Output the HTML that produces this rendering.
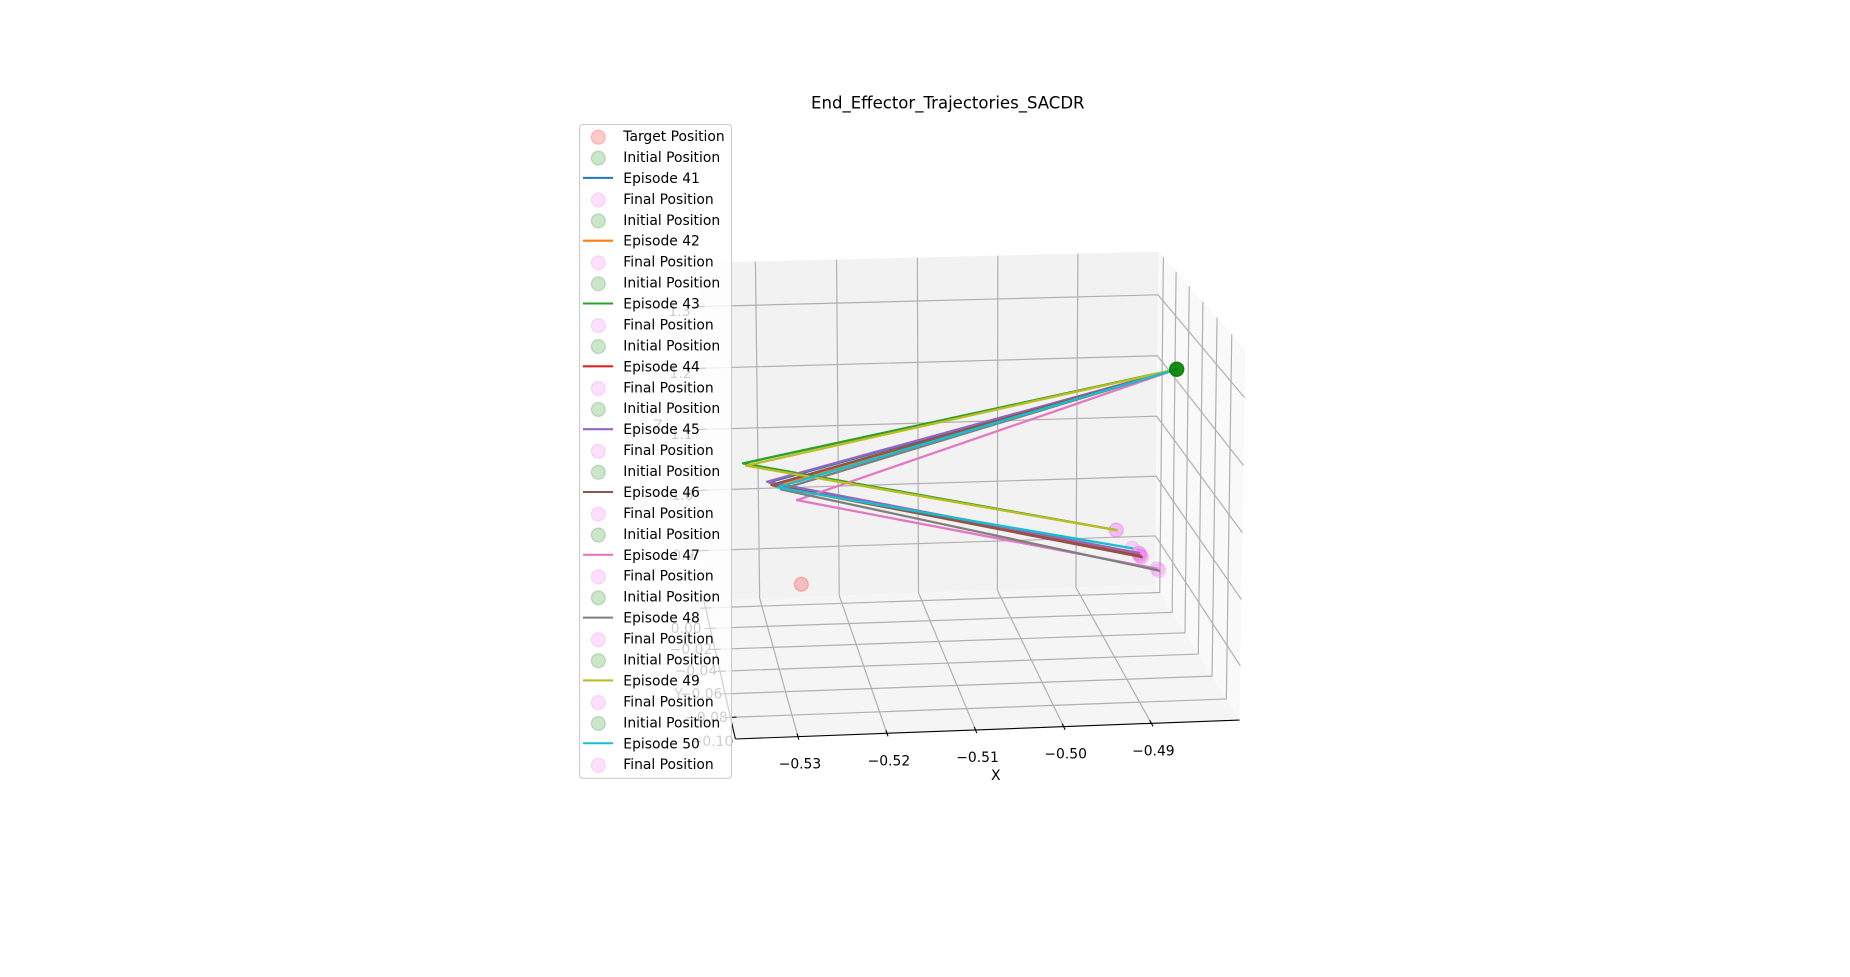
<!DOCTYPE html>
<html lang="en">
<head>
<meta charset="utf-8">
<title>End_Effector_Trajectories_SACDR</title>
<style>
html,body{margin:0;padding:0;background:#fff;}
svg{display:block;font-family:"DejaVu Sans","Liberation Sans",sans-serif;}
</style>
</head>
<body>
<svg id="chart" xmlns="http://www.w3.org/2000/svg" width="1850" height="977" viewBox="0 0 1850 977">
<rect x="0" y="0" width="1850" height="977" fill="#ffffff"/>
<g id="axes3d"></g>
<g id="marks"></g>
<g id="legend"></g>
<text x="947.8" y="108.5" font-size="16.55" text-anchor="middle" fill="#000">End_Effector_Trajectories_SACDR</text>
</svg>
<script>
// Tick values and labels
const xTicks = [-0.53, -0.52, -0.51, -0.50, -0.49];
const xTickLabels = ['\u22120.53', '\u22120.52', '\u22120.51', '\u22120.50', '\u22120.49'];
const yTicks = [0.02, 0.00, -0.02, -0.04, -0.06, -0.08];
const yLabelTicks = [0.00, -0.02, -0.04, -0.06, -0.08, -0.10];
const yTickLabels = ['0.00', '\u22120.02', '\u22120.04', '\u22120.06', '\u22120.08', '\u22120.10'];
const zTicks = [0.9, 1.0, 1.1, 1.2, 1.3];
const zTickLabels = ['0.9', '1.0', '1.1', '1.2', '1.3'];

// Series values
const episodes = ['Episode 41', 'Episode 42', 'Episode 43', 'Episode 44', 'Episode 45', 'Episode 46', 'Episode 47', 'Episode 48', 'Episode 49', 'Episode 50'];
const targetX = [-0.5271];
const targetY = [-0.0349];
const targetZ = [0.9418];
const initialX = [-0.4825, -0.4825, -0.4825, -0.4825, -0.4825, -0.4825, -0.4825, -0.4825, -0.4825, -0.4825];
const initialY = [-0.0349, -0.0349, -0.0349, -0.0349, -0.0349, -0.0349, -0.0349, -0.0349, -0.0349, -0.0349];
const initialZ = [1.2606, 1.2606, 1.2606, 1.2606, 1.2606, 1.2606, 1.2606, 1.2606, 1.2606, 1.2606];
const kneeX = [-0.5308, -0.5302, -0.5338, -0.5305, -0.5310, -0.5304, -0.52752, -0.5294, -0.53345, -0.5298];
const kneeY = [-0.0349, -0.0349, -0.0349, -0.0349, -0.0349, -0.0349, -0.0349, -0.0349, -0.0349, -0.0349];
const kneeZ = [1.1032, 1.0973, 1.1339, 1.0989, 1.1042, 1.0989, 1.0740, 1.0916, 1.1302, 1.0949];
const finalX = [-0.4868, -0.4867, -0.48955, -0.4866, -0.4868, -0.48647, -0.4846, -0.48436, -0.48955, -0.4876];
const finalY = [-0.0349, -0.0349, -0.0349, -0.0349, -0.0349, -0.0349, -0.0349, -0.0349, -0.0349, -0.0349];
const finalZ = [0.9730, 0.9694, 1.0110, 0.9686, 0.9734, 0.9670, 0.9477, 0.9445, 1.0110, 0.9813];
const seriesColors = ['#1f77b4', '#ff7f0e', '#2ca02c', '#d62728', '#9467bd', '#8c564b', '#e377c2', '#7f7f7f', '#bcbd22', '#17becf'];

// Axis limits
const xMin = -0.5370, xSpan = 0.0571;
const yMin = -0.0978, ySpan = 0.1258;
const zMin = 0.8176, zSpan = 0.5528;

const SVG_NS = 'http://www.w3.org/2000/svg';

function unitX(x) { return (x - xMin) / xSpan; }
function unitY(y) { return (y - yMin) / ySpan; }
function unitZ(z) { return (z - zMin) / zSpan; }

// Perspective projection of unit-cube coordinates onto the canvas
function projectUnit(u, t, v) {
  const w = 1 + 0.12 * t - 0.0217 * v + 0.014 * u;
  return [
    440 + (295.4 + 515.3 * u - 11.6 * v) / w,
    -558 + (1297 - 1.1 * u - 395.3 * v) / w
  ];
}
function project(x, y, z) {
  return projectUnit(unitX(x), unitY(y), unitZ(z));
}

function make(tag, parent, attrs) {
  const el = document.createElementNS(SVG_NS, tag);
  for (const k in attrs) el.setAttribute(k, attrs[k]);
  parent.appendChild(el);
  return el;
}
function pointsAttr(list) {
  return list.map(function (p) { return p[0].toFixed(2) + ',' + p[1].toFixed(2); }).join(' ');
}
function polyline(parent, list, color, width) {
  return make('polyline', parent, {
    points: pointsAttr(list), fill: 'none', stroke: color, 'stroke-width': width
  });
}
function label(parent, x, y, str, size) {
  const el = make('text', parent, {
    x: x.toFixed(2), y: y.toFixed(2), 'font-size': size, 'text-anchor': 'middle', fill: '#000'
  });
  el.textContent = str;
  return el;
}

const axes = document.getElementById('axes3d');
const marks = document.getElementById('marks');
const legend = document.getElementById('legend');
const GRID = '#b0b0b0';
const GRID_W = 1.2;

// Panes
const floorPane = make('polygon', axes, {
  points: pointsAttr([projectUnit(0, 0, 0), projectUnit(1, 0, 0), projectUnit(1, 1, 0), projectUnit(0, 1, 0)]), fill: '#f5f5f5'
});


const backPane = make('polygon', axes, {
  points: pointsAttr([projectUnit(0, 1, 0), projectUnit(1, 1, 0), projectUnit(1, 1, 1), projectUnit(0, 1, 1)]), fill: '#f2f2f2'
});


const sidePane = make('polygon', axes, {
  points: pointsAttr([projectUnit(1, 1, 0), projectUnit(1, 0, 0), projectUnit(1, 0, 1), projectUnit(1, 1, 1)]), fill: '#f9f9f9'
});



// Grid lines
xTicks.forEach(function (val) {
  const u = unitX(val);
  const g = polyline(axes, [projectUnit(u, 0, 0), projectUnit(u, 1, 0), projectUnit(u, 1, 1)], GRID, GRID_W);
  
  
});
yTicks.forEach(function (val) {
  const t = unitY(val);
  const g = polyline(axes, [projectUnit(0, t, 0), projectUnit(1, t, 0), projectUnit(1, t, 1)], GRID, GRID_W);
  
  
});
zTicks.forEach(function (val) {
  const v = unitZ(val);
  const g = polyline(axes, [projectUnit(0, 1, v), projectUnit(1, 1, v), projectUnit(1, 0, v)], GRID, GRID_W);
  
  
});

// Axis lines
const xAxisLine = polyline(axes, [projectUnit(0, 0, 0), projectUnit(1, 0, 0)], '#000', 1.11);


const yAxisLine = polyline(axes, [projectUnit(0, 0, 0), projectUnit(0, 1, 0)], '#000', 1.11);



// Ticks and tick labels
xTicks.forEach(function (val, i) {
  const u = unitX(val);
  const m = polyline(axes, [projectUnit(u, -0.02, 0), projectUnit(u, 0.02, 0)], '#000', 1.11);
  
  
  const p = projectUnit(u, 0, 0);
  const l = label(axes, p[0] + 2, p[1] + 32, xTickLabels[i], 13.89);
  
  
});
yTicks.forEach(function (val) {
  const t = unitY(val);
  const m = polyline(axes, [projectUnit(-0.012, t, 0), projectUnit(0.012, t, 0)], '#000', 1.11);
  
  
});
yLabelTicks.forEach(function (val, i) {
  const p = projectUnit(0, unitY(val), 0);
  const l = label(axes, p[0] - 24, p[1] + 4.5, yTickLabels[i], 13.89);
  
  
});
zTicks.forEach(function (val, i) {
  const v = unitZ(val);
  const m = polyline(axes, [projectUnit(-0.012, 1, v), projectUnit(0.012, 1, v)], '#000', 1.11);
  
  
  const p = projectUnit(0, 1, v);
  const l = label(axes, p[0] - 19.5, p[1] + 9.5, zTickLabels[i], 13.89);
  
  
});

// Axis titles
const xTitle = label(axes, 995.7, 780, 'X', 13.89);


const yTitle = label(axes, 678.5, 699, 'Y', 13.89);


const zTitle = label(axes, 658, 430, 'Z', 13.89);



// Scatter helper
function dot(parent, cx, cy, color, alpha) {
  return make('circle', parent, {
    cx: cx.toFixed(2), cy: cy.toFixed(2), r: 6.94,
    fill: color, 'fill-opacity': alpha, stroke: color, 'stroke-opacity': alpha, 'stroke-width': 1.39
  });
}

// Target
targetX.forEach(function (val, i) {
  const p = project(val, targetY[i], targetZ[i]);
  const d = dot(marks, p[0], p[1], '#ff0000', 0.22);
  
  
});

// Final positions
episodes.forEach(function (name, i) {
  const p = project(finalX[i], finalY[i], finalZ[i]);
  const d = dot(marks, p[0], p[1], '#ee66ee', 0.2);
  
  
});

// Trajectories
episodes.forEach(function (name, i) {
  const line = make('polyline', marks, {
    points: pointsAttr([
      project(initialX[i], initialY[i], initialZ[i]),
      project(kneeX[i], kneeY[i], kneeZ[i]),
      project(finalX[i], finalY[i], finalZ[i])
    ]),
    fill: 'none', stroke: seriesColors[i], 'stroke-width': 2.3,
    'stroke-linejoin': 'round', 'stroke-linecap': 'square'
  });
  
  
});

// Initial positions
episodes.forEach(function (name, i) {
  const p = project(initialX[i], initialY[i], initialZ[i]);
  const d = dot(marks, p[0], p[1], '#008000', 0.2);
  
  
});

// Legend
const legendFrame = make('rect', legend, {
  x: 579.6, y: 124.5, width: 151.9, height: 653.8, rx: 3, ry: 3,
  fill: '#ffffff', 'fill-opacity': 0.8, stroke: '#cccccc', 'stroke-width': 1.11
});



const ROW_START = 136, ROW_STEP = 20.94;
let legendRow = 0;
function legendText(str) {
  const cy = ROW_START + ROW_STEP * legendRow;
  const t = make('text', legend, { x: 623.3, y: (cy + 5).toFixed(2), 'font-size': 13.89, fill: '#000' });
  t.textContent = str;
  
  
  legendRow++;
  return cy;
}
function legendDot(cy, color) {
  const d = dot(legend, 598.3, cy + 1.2, color, 0.2);
  
  
}
legendDot(legendText('Target Position'), '#ff0000');
episodes.forEach(function (name, i) {
  legendDot(legendText('Initial Position'), '#008000');
  const cy = legendText(name);
  const h = make('line', legend, {
    x1: 584, x2: 612, y1: cy.toFixed(2), y2: cy.toFixed(2),
    stroke: seriesColors[i], 'stroke-width': 2.08, 'stroke-linecap': 'square'
  });
  
  
  legendDot(legendText('Final Position'), '#ee66ee');
});
</script>
</body>
</html>
